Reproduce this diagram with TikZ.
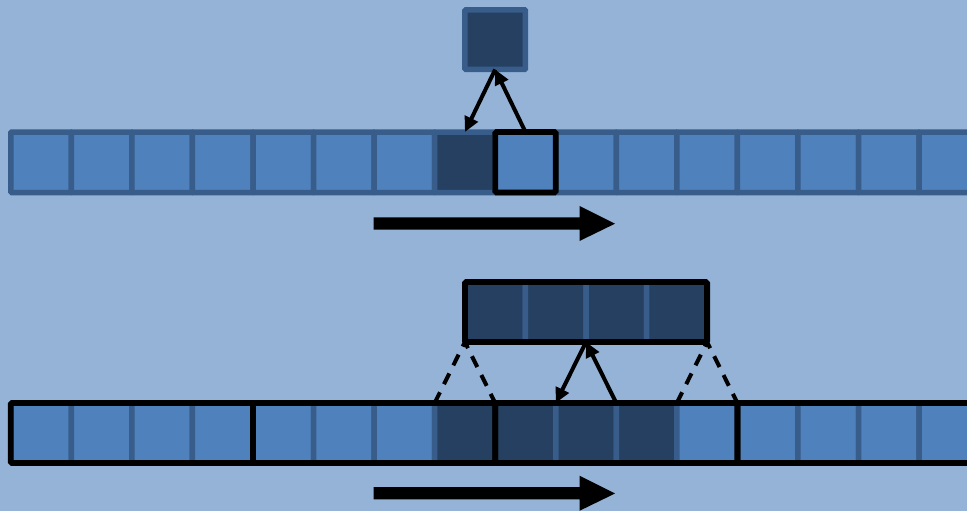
\documentclass[tikz,border=0pt]{standalone}
\usetikzlibrary{arrows.meta}
\definecolor{bgblue}{HTML}{95B3D7}
\definecolor{cellblue}{HTML}{4F81BD}
\definecolor{edgeblue}{HTML}{385D8A}
\definecolor{darkblue}{HTML}{254061}
\tikzset{
  cellbox/.style={draw=edgeblue, fill=cellblue, line width=5.5pt, minimum width=60.55pt, minimum height=60.5pt, inner sep=0pt, outer sep=0pt, anchor=north west, rounded corners=1pt},
  darkcell/.style={cellbox, fill=darkblue},
  blackframe/.style={draw=black, line width=5.8pt, rounded corners=1.5pt},
  linkarrow/.style={draw=black, line width=4pt, -{Triangle[length=15pt,width=14pt]}},
  dashlink/.style={draw=black, line width=4pt, dash pattern=on 12pt off 9pt},
  bigarrow/.style={fill=black}
}
\begin{document}
\begin{tikzpicture}[x=1pt,y=-1pt]
\useasboundingbox (0,0) rectangle (967,511);
\fill[bgblue] (0,0) rectangle (967,511);

% ---------- top part ----------
\foreach \i in {0,...,15} {
  \pgfmathsetmacro{\xx}{10.8+60.55*\i}
  \ifnum\i=7
    \node[darkcell] (t\i) at (\xx,132) {};
  \else
    \node[cellbox] (t\i) at (\xx,132) {};
  \fi
}
\draw[blackframe] (t8.north west) rectangle (t8.south east);
\node[darkcell, minimum height=59.7pt] (sq) at (464.9,9.8) {};
\draw[linkarrow] (sq.south) -- (t7.north);
\draw[linkarrow] (t8.north) -- (sq.south);

\coordinate (a1s) at (373.5,223.7);
\coordinate (a1t) at (615,223.7);
\fill[bigarrow] (a1s) ++(0,-6.3) -- ++(206,0) -- ++(0,-11.5) -- (a1t) -- ++(-35.5,17.3) -- ++(0,-11.5) -- ++(-206,0) -- cycle;

% ---------- bottom part ----------
\foreach \k in {0,...,3} {
  \pgfmathsetmacro{\xx}{464.9+60.55*\k}
  \node[darkcell, minimum height=60pt] (w\k) at (\xx,282) {};
}
\draw[blackframe] (w0.north west) rectangle (w3.south east);

\foreach \i in {0,...,15} {
  \pgfmathsetmacro{\xx}{10.8+60.55*\i}
  \ifnum\i>6 \ifnum\i<11
    \node[darkcell, minimum height=60pt] (r\i) at (\xx,403) {};
  \else
    \node[cellbox, minimum height=60pt] (r\i) at (\xx,403) {};
  \fi \else
    \node[cellbox, minimum height=60pt] (r\i) at (\xx,403) {};
  \fi
}
\draw[blackframe] (r0.north west) rectangle (r3.south east);
\draw[blackframe] (r4.north west) rectangle (r7.south east);
\draw[blackframe] (r8.north west) rectangle (r11.south east);
\draw[blackframe] (r12.north west) rectangle (r15.south east);

\draw[dashlink] (r7.north west) -- (w0.south west) -- (r8.north west);
\draw[dashlink] (r11.north west) -- (w3.south east) -- (r12.north west);
\draw[linkarrow] (w2.south west) -- (r9.north west);
\draw[linkarrow] (r10.north west) -- (w2.south west);

\coordinate (a2s) at (373.5,493.5);
\coordinate (a2t) at (615,493.5);
\fill[bigarrow] (a2s) ++(0,-6.3) -- ++(206,0) -- ++(0,-11.5) -- (a2t) -- ++(-35.5,17.3) -- ++(0,-11.5) -- ++(-206,0) -- cycle;
\end{tikzpicture}
\end{document}
